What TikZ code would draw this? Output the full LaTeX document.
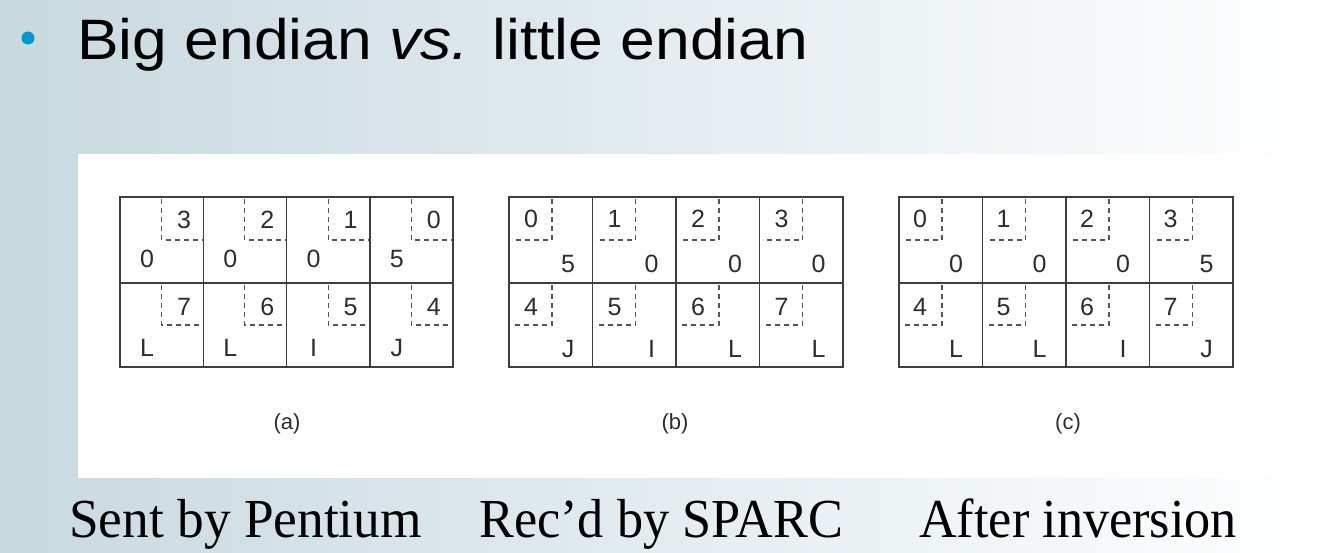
\documentclass[tikz,border=0pt]{standalone}
\usepackage{fontspec}
\setmainfont{Liberation Sans}
\newfontfamily\titlefont[FakeStretch=1.095]{Liberation Sans}
\newfontfamily\capfont[FakeStretch=0.95]{Liberation Serif}
\newfontfamily\capfontwide[FakeStretch=0.97]{Liberation Serif}
\definecolor{bgleft}{RGB}{200,217,224}
\definecolor{bulletblue}{RGB}{0,153,208}
\definecolor{gridline}{RGB}{62,62,62}
\definecolor{dashgray}{RGB}{85,85,85}
\definecolor{txt}{RGB}{45,45,45}
\begin{document}
\begin{tikzpicture}[x=1pt,y=-1pt,
  cellline/.style={draw=gridline, line width=1.5pt},
  dashline/.style={draw=dashgray, line width=1.2pt, dash pattern=on 5pt off 4pt},
  digit/.style={font=\fontsize{25}{25}\selectfont, text=txt, inner sep=0pt},
  sublabel/.style={font=\fontsize{22}{22}\selectfont, text=txt, inner sep=0pt},
  titletext/.style={font=\titlefont\fontsize{57}{57}\selectfont, text=black, inner sep=0pt, anchor=base west},
  captext/.style={font=\capfont\fontsize{55}{55}\selectfont, text=black, inner sep=0pt, anchor=base west},
]
\useasboundingbox (0,0) rectangle (1325,552);
\shade[left color=bgleft, right color=white] (0,0) rectangle (1325,552);
\fill[white] (78,154) rectangle (1273,478);

% title
\fill[bulletblue] (28,38) circle (6.5);
\node[titletext] (title) at (77,59) {Big endian \textit{vs.} little endian};

% ---------- grid (a) ----------
\foreach \c/\ti/\tv/\bi/\bv in {0/3/0/7/L,1/2/0/6/L,2/1/0/5/I,3/0/5/4/J} {
  \pgfmathsetmacro\L{120+\c*83.25}
  \draw[dashline] (\L+41.6,199) -- (\L+41.6,240) -- (\L+83.25,240);
  \draw[dashline] (\L+41.6,285) -- (\L+41.6,325) -- (\L+83.25,325);
  \node[digit] (ati\c) at (\L+64,220) {\ti};
  \node[digit] (atv\c) at (\L+27,259) {\tv};
  \node[digit] (abi\c) at (\L+64,307) {\bi};
  \node[digit] (abv\c) at (\L+27,348) {\bv};
}
\draw[cellline] (120,197) rectangle (453,367);
\draw[cellline] (120,283) -- (453,283);
\foreach \k in {1,2,3} \draw[cellline] (120+\k*83.25,197) -- (120+\k*83.25,367);
\node[sublabel] (la) at (287,424) {(a)};

% ---------- grid (b) ----------
\foreach \c/\ti/\tv/\bi/\bv in {0/0/5/4/J,1/1/0/5/I,2/2/0/6/L,3/3/0/7/L} {
  \pgfmathsetmacro\L{509+\c*83.5}
  \draw[dashline] (\L+43,199) -- (\L+43,240) -- (\L+3,240);
  \draw[dashline] (\L+43,285) -- (\L+43,325) -- (\L+3,325);
  \node[digit] (bti\c) at (\L+22,219) {\ti};
  \node[digit] (btv\c) at (\L+59,264) {\tv};
  \node[digit] (bbi\c) at (\L+22,307) {\bi};
  \node[digit] (bbv\c) at (\L+59,349) {\bv};
}
\draw[cellline] (509,197) rectangle (843,367);
\draw[cellline] (509,283) -- (843,283);
\foreach \k in {1,2,3} \draw[cellline] (509+\k*83.5,197) -- (509+\k*83.5,367);
\node[sublabel] (lb) at (675,424) {(b)};

% ---------- grid (c) ----------
\foreach \c/\ti/\tv/\bi/\bv in {0/0/0/4/L,1/1/0/5/L,2/2/0/6/I,3/3/5/7/J} {
  \pgfmathsetmacro\L{899+\c*83.5}
  \draw[dashline] (\L+43,199) -- (\L+43,240) -- (\L+3,240);
  \draw[dashline] (\L+43,285) -- (\L+43,325) -- (\L+3,325);
  \node[digit] (cti\c) at (\L+21,219) {\ti};
  \node[digit] (ctv\c) at (\L+57,264) {\tv};
  \node[digit] (cbi\c) at (\L+21,307) {\bi};
  \node[digit] (cbv\c) at (\L+57,349) {\bv};
}
\draw[cellline] (899,197) rectangle (1233,367);
\draw[cellline] (899,283) -- (1233,283);
\foreach \k in {1,2,3} \draw[cellline] (899+\k*83.5,197) -- (899+\k*83.5,367);
\node[sublabel] (lc) at (1068,424) {(c)};

% captions
\node[captext, font=\capfontwide\fontsize{55}{55}\selectfont] (c1) at (69,537) {Sent by Pentium};
\node[captext] (c2) at (479,537) {Rec’d by SPARC};
\node[captext] (c3) at (919,537) {After inversion};
\end{tikzpicture}
\end{document}
